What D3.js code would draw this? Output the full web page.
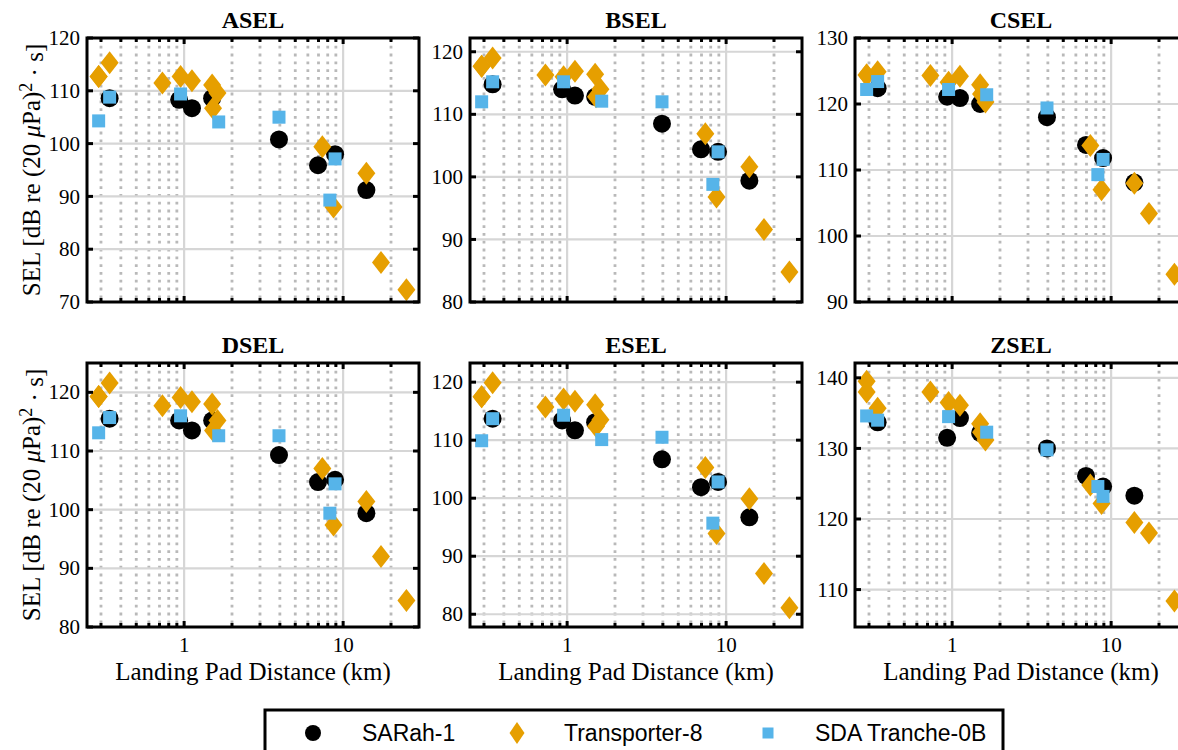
<!DOCTYPE html>
<html>
<head>
<meta charset="utf-8">
<script src="https://cdn.jsdelivr.net/npm/d3@7"></script>
<style>
  body { margin: 0; background: #fff; }
  svg { display: block; }
</style>
</head>
<body>
<div id="vis"></div>
<script>
// panel titles, same order as the figure (row by row)
var panelNames = ["ASEL", "BSEL", "CSEL", "DSEL", "ESEL", "ZSEL"];

// landing pad distance (km) for each launch
var distSARah = [0.34, 0.93, 1.12, 1.5, 3.95, 6.95, 8.9, 14.0];
var distTransporter = [0.29, 0.29, 0.34, 0.73, 0.95, 1.12, 1.5, 1.62, 1.52, 7.4, 8.7, 14.0, 17.3, 25.0];
var distTranche = [0.29, 0.34, 0.95, 1.65, 3.95, 8.25, 8.9];

// SEL values, one row per panel (A, B, C, D, E, Z)
var selSARah = [
    [108.6, 108.3, 106.7, 108.6, 100.8, 95.9, 98.0, 91.2],
    [114.8, 114.0, 113.0, 112.8, 108.5, 104.4, 104.0, 99.4],
    [122.4, 121.1, 120.9, 120.0, 118.0, 113.8, 111.8, 108.1],
    [115.5, 115.2, 113.5, 115.2, 109.3, 104.7, 105.1, 99.4],
    [113.7, 113.4, 111.7, 113.1, 106.7, 101.9, 102.8, 96.7],
    [133.7, 131.5, 134.3, 132.2, 130.0, 126.1, 124.6, 123.3]
];
var selTransporter = [
    [112.7, 112.7, 115.3, 111.5, 112.7, 111.9, 111.1, 109.6, 106.7, 99.4, 88.0, 94.4, 77.5, 72.3],
    [117.7, 117.7, 119.0, 116.3, 116.0, 116.9, 116.4, 114.0, 112.8, 106.9, 96.8, 101.6, 91.6, 84.8],
    [124.4, 124.4, 124.9, 124.3, 123.3, 124.2, 122.9, 120.3, 121.5, 113.7, 107.0, 108.0, 103.4, 94.2],
    [119.3, 119.3, 121.6, 117.7, 119.1, 118.4, 118.0, 115.2, 113.5, 107.0, 97.4, 101.4, 92.0, 84.5],
    [117.5, 117.5, 119.9, 115.7, 117.1, 116.7, 116.1, 113.5, 112.4, 105.3, 93.9, 99.9, 87.0, 81.1],
    [139.5, 138.0, 135.7, 138.0, 136.5, 136.1, 133.5, 131.2, 132.3, 124.8, 122.2, 119.5, 118.0, 108.4]
];
var selTranche = [
    [104.3, 108.8, 109.4, 104.1, 105.0, 89.3, 97.1],
    [112.0, 115.2, 115.2, 112.1, 112.0, 98.8, 104.0],
    [122.2, 123.4, 122.2, 121.4, 119.4, 109.3, 111.6],
    [113.1, 115.7, 116.0, 112.6, 112.6, 99.4, 104.4],
    [109.9, 113.7, 114.3, 110.1, 110.5, 95.7, 102.8],
    [134.6, 134.0, 134.5, 132.3, 129.8, 124.6, 123.2]
];

// axis limits and ticks
var xLimits = [0.245, 30];
var xMajorTicks = [1, 10];
var xMinorTicks = [0.3, 0.4, 0.5, 0.6, 0.7, 0.8, 0.9, 2, 3, 4, 5, 6, 7, 8, 9, 20];
var yLimits = [[70, 120], [80, 122.2], [90, 130], [80, 125], [77.8, 123.3], [104.7, 142.1]];
var yTicks = [
    [70, 80, 90, 100, 110, 120],
    [80, 90, 100, 110, 120],
    [90, 100, 110, 120, 130],
    [80, 90, 100, 110, 120],
    [80, 90, 100, 110, 120],
    [110, 120, 130, 140]
];

var seriesNames = ["SARah-1", "Transporter-8", "SDA Tranche-0B"];

var colors = {
    black: "#000000",
    orange: "#E69F00",
    blue: "#56B4E9",
    grid: "#d6d6d6",
    minor: "#b9b9b9"
};

var serif = "'Liberation Serif', 'Times New Roman', serif";
var sans = "'Liberation Sans', Arial, sans-serif";

var width = 1178, height = 750;
var colX = [87, 470, 855];
var rowY = [38, 363];
var pw = 332, ph = 264;

var svg = d3.select("#vis")
    .append("svg")
    .attr("width", width)
    .attr("height", height)

var diamond = "M0,-11.5L9,0L0,11.5L-9,0Z";

panelNames.forEach(function(name, i) {
    var col = i % 3, row = Math.floor(i / 3);
    var g = svg.append("g")
        .attr("transform", "translate(" + colX[col] + "," + rowY[row] + ")");

    var x = d3.scaleLog().domain(xLimits).range([0, pw]);
    var y = d3.scaleLinear().domain(yLimits[i]).range([ph, 0]);

    // grid
    g.selectAll(".minor")
        .data(xMinorTicks.filter(function(t) { return x(t) < pw - 1; }))
        .enter().append("line")
        .attr("x1", function(d) { return x(d); })
        .attr("x2", function(d) { return x(d); })
        .attr("y1", 0).attr("y2", ph)
        .attr("stroke", colors.minor)
        .attr("stroke-width", 2.8)
        .attr("stroke-dasharray", "2.8,5")

    g.selectAll(".xgrid")
        .data(xMajorTicks)
        .enter().append("line")
        .attr("x1", function(d) { return x(d); })
        .attr("x2", function(d) { return x(d); })
        .attr("y1", 0).attr("y2", ph)
        .attr("stroke", colors.grid)
        .attr("stroke-width", 2.2)

    g.selectAll(".ygrid")
        .data(yTicks[i])
        .enter().append("line")
        .attr("x1", 0).attr("x2", pw)
        .attr("y1", function(d) { return y(d); })
        .attr("y2", function(d) { return y(d); })
        .attr("stroke", colors.grid)
        .attr("stroke-width", 2.2)

    // markers: circles, then diamonds, then squares on top
    g.selectAll(".sarah")
        .data(selSARah[i])
        .enter().append("circle")
        .attr("cx", function(d, j) { return x(distSARah[j]); })
        .attr("cy", function(d) { return y(d); })
        .attr("r", 9)
        .attr("fill", colors.black)

    g.selectAll(".transporter")
        .data(selTransporter[i])
        .enter().append("path")
        .attr("d", diamond)
        .attr("transform", function(d, j) {
            return "translate(" + x(distTransporter[j]) + "," + y(d) + ")";
        })
        .attr("fill", colors.orange)

    g.selectAll(".tranche")
        .data(selTranche[i])
        .enter().append("rect")
        .attr("x", function(d, j) { return x(distTranche[j]) - 6.5; })
        .attr("y", function(d) { return y(d) - 6.5; })
        .attr("width", 13).attr("height", 13)
        .attr("fill", colors.blue)

    // tick marks, inside, all four sides
    var xt = xMinorTicks.map(function(t) { return { v: t, len: 4 }; })
        .concat(xMajorTicks.map(function(t) { return { v: t, len: 6 }; }));
    [0, ph].forEach(function(edge) {
        g.selectAll(null)
            .data(xt)
            .enter().append("line")
            .attr("x1", function(d) { return x(d.v); })
            .attr("x2", function(d) { return x(d.v); })
            .attr("y1", edge)
            .attr("y2", function(d) { return edge === 0 ? d.len : ph - d.len; })
            .attr("stroke", "#000")
            .attr("stroke-width", 3)
    });
    [0, pw].forEach(function(edge) {
        g.selectAll(null)
            .data(yTicks[i])
            .enter().append("line")
            .attr("y1", function(d) { return y(d); })
            .attr("y2", function(d) { return y(d); })
            .attr("x1", edge)
            .attr("x2", edge === 0 ? 6 : pw - 6)
            .attr("stroke", "#000")
            .attr("stroke-width", 3)
    });

    g.append("rect")
        .attr("width", pw).attr("height", ph)
        .attr("fill", "none")
        .attr("stroke", "#000")
        .attr("stroke-width", 3)

    // y tick labels
    g.selectAll(".ylab")
        .data(yTicks[i])
        .enter().append("text")
        .attr("x", -7)
        .attr("y", function(d) { return y(d); })
        .attr("dy", "0.34em")
        .attr("text-anchor", "end")
        .style("font-family", serif)
        .style("font-size", "21px")
        .text(function(d) { return d; })

    // title
    g.append("text")
        .attr("x", pw / 2).attr("y", -10)
        .attr("text-anchor", "middle")
        .style("font-family", serif)
        .style("font-size", "24px")
        .style("font-weight", "bold")
        .text(name)

    if (row === 1) {
        g.selectAll(".xlab")
            .data(xMajorTicks)
            .enter().append("text")
            .attr("x", function(d) { return x(d); })
            .attr("y", ph + 25)
            .attr("text-anchor", "middle")
            .style("font-family", serif)
            .style("font-size", "21px")
            .text(function(d) { return d; })

        g.append("text")
            .attr("x", pw / 2).attr("y", ph + 53)
            .attr("text-anchor", "middle")
            .style("font-family", serif)
            .style("font-size", "25px")
            .text("Landing Pad Distance (km)")
    }

    if (col === 0) {
        var lab = g.append("text")
            .attr("transform", "translate(" + (40 - colX[0]) + "," + (ph / 2) + ") rotate(-90)")
            .attr("text-anchor", "middle")
            .style("font-family", serif)
            .style("font-size", "25px")
        lab.append("tspan").text("SEL [dB re (20 ")
        lab.append("tspan").style("font-style", "italic").text("\u03bc")
        lab.append("tspan").text("Pa)")
        lab.append("tspan").attr("dy", "-0.45em").style("font-size", "18px").text("2")
        lab.append("tspan").attr("dy", "0.45em").text(" \u00b7 s]")
    }
});

// legend
var legend = svg.append("g").attr("transform", "translate(265,710)");
legend.append("rect")
    .attr("width", 738).attr("height", 60)
    .attr("fill", "#fff")
    .attr("stroke", "#000")
    .attr("stroke-width", 3)

var legendMarkX = [48, 252, 503];
var legendTextX = [97, 299, 550];
var my = 23;
legend.append("circle").attr("cx", legendMarkX[0]).attr("cy", my).attr("r", 8).attr("fill", colors.black)
legend.append("path").attr("d", "M0,-11L7.5,0L0,11L-7.5,0Z")
    .attr("transform", "translate(" + legendMarkX[1] + "," + my + ")").attr("fill", colors.orange)
legend.append("rect").attr("x", legendMarkX[2] - 5.5).attr("y", my - 5.5)
    .attr("width", 11).attr("height", 11).attr("fill", colors.blue)

legend.selectAll(".ltext")
    .data(seriesNames)
    .enter().append("text")
    .attr("x", function(d, j) { return legendTextX[j]; })
    .attr("y", my + 8)
    .style("font-family", sans)
    .style("font-size", "23px")
    .text(function(d) { return d; })
</script>
</body>
</html>
